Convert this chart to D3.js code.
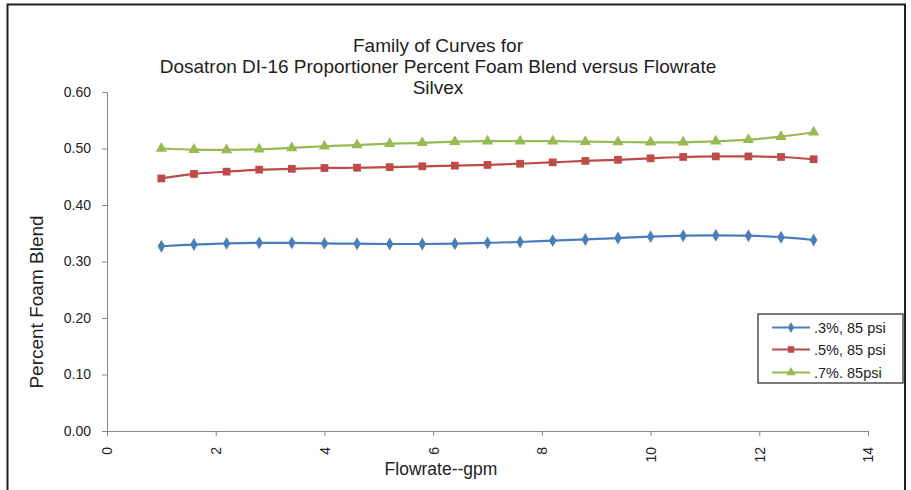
<!DOCTYPE html>
<html><head><meta charset="utf-8">
<script src="https://cdn.jsdelivr.net/npm/d3@7"></script>
<style>body{margin:0;background:#fff}svg{display:block;font-family:"Liberation Sans",Arial,sans-serif}</style>
</head><body>
<svg id="c" width="911" height="490"></svg>
<script>
const flowrate = [1.0,1.6,2.2,2.8,3.4,4.0,4.6,5.2,5.8,6.4,7.0,7.6,8.2,8.8,9.4,10.0,10.6,11.2,11.8,12.4,13.0];
const s03 = [0.327,0.330,0.332,0.333,0.333,0.332,0.3315,0.331,0.331,0.3315,0.333,0.3345,0.337,0.339,0.3415,0.344,0.3457,0.3463,0.3457,0.343,0.338];
const s05 = [0.447,0.455,0.459,0.4625,0.464,0.4655,0.466,0.467,0.4685,0.4696,0.471,0.473,0.4755,0.478,0.480,0.4826,0.485,0.486,0.486,0.485,0.481];
const s07 = [0.500,0.498,0.4975,0.4985,0.501,0.504,0.506,0.5085,0.510,0.512,0.513,0.513,0.513,0.512,0.5115,0.511,0.511,0.5127,0.5156,0.521,0.5287];
const seriesNames = [".3%, 85 psi", ".5%, 85 psi", ".7%. 85psi"];
const xTicks = [0,2,4,6,8,10,12,14];
const yTicks = [0,0.1,0.2,0.3,0.4,0.5,0.6];
const titleLines = ["Family of Curves for","Dosatron DI-16 Proportioner Percent Foam Blend versus Flowrate","Silvex"];

const svg = d3.select("#c");
svg.append("rect").attr("x",7.5).attr("y",4.5).attr("width",897.5).attr("height",500)
  .attr("fill","none").attr("stroke","#222").attr("stroke-width",2);

const x = d3.scaleLinear().domain([0,14]).range([107,868]);
const y = d3.scaleLinear().domain([0,0.6]).range([431,92]);
const axisCol = "#868686";

// Y axis
const ya = svg.append("g").attr("transform","translate(107,0)")
  .call(d3.axisLeft(y).tickValues(yTicks).tickFormat(d3.format(".2f")).tickSizeOuter(0).tickSize(5));
ya.select(".domain").attr("stroke",axisCol);
ya.selectAll(".tick line").attr("stroke",axisCol);
ya.selectAll("text").attr("fill","#222").attr("font-size",14).attr("x",-16)
  .style("font-family","Liberation Sans, Arial, sans-serif");

// X axis
const xa = svg.append("g").attr("transform","translate(0,431)")
  .call(d3.axisBottom(x).tickValues(xTicks).tickSizeOuter(0).tickSize(5));
xa.select(".domain").attr("stroke",axisCol);
xa.selectAll(".tick line").attr("stroke",axisCol);
xa.selectAll("text").attr("fill","#222").attr("font-size",14)
  .style("font-family","Liberation Sans, Arial, sans-serif")
  .attr("transform","rotate(-90)").attr("x",-16).attr("y",0).attr("dy","0.35em").attr("text-anchor","end");

// titles
svg.append("g").selectAll("text").data(titleLines).join("text")
  .attr("x",438).attr("y",(d,i)=>52+i*21).attr("text-anchor","middle")
  .attr("font-size",19).attr("fill","#222").text(d=>d);
svg.append("text").attr("x",441).attr("y",475).attr("text-anchor","middle")
  .attr("font-size",17.5).attr("fill","#222").text("Flowrate--gpm");
svg.append("text").attr("transform","translate(43,302) rotate(-90)").attr("text-anchor","middle")
  .attr("font-size",19).attr("fill","#222").text("Percent Foam Blend");

const series = [
  {vals:s03, color:"#4a7ebb", sym:d3.symbolDiamond, size:48},
  {vals:s05, color:"#be4b48", sym:d3.symbolSquare, size:60},
  {vals:s07, color:"#98b954", sym:d3.symbolTriangle, size:55}
];
const line = d3.line().x(d=>x(d[0])).y(d=>y(d[1])).curve(d3.curveCatmullRom.alpha(0.5));
series.forEach((s,i)=>{
  const pts = flowrate.map((f,j)=>[f,s.vals[j]]);
  svg.append("path").datum(pts).attr("d",line).attr("fill","none")
    .attr("stroke",s.color).attr("stroke-width",2.2);
  svg.append("g").selectAll("path").data(pts).join("path")
    .attr("transform",d=>`translate(${x(d[0])},${y(d[1])})`)
    .attr("d",d3.symbol().type(s.sym).size(s.size)).attr("fill",s.color);
});

// legend
const lg = svg.append("g");
lg.append("rect").attr("x",758).attr("y",314).attr("width",145).attr("height",69)
  .attr("fill","#fff").attr("stroke","#222").attr("stroke-width",1.2);
const rowsY = [327.5,349.5,372.5];
series.forEach((s,i)=>{
  lg.append("line").attr("x1",772).attr("x2",810).attr("y1",rowsY[i]).attr("y2",rowsY[i])
    .attr("stroke",s.color).attr("stroke-width",2.2);
  lg.append("path").attr("transform",`translate(791,${rowsY[i]})`)
    .attr("d",d3.symbol().type(s.sym).size(s.size*0.7)).attr("fill",s.color);
  lg.append("text").attr("x",814).attr("y",rowsY[i]).attr("dy","0.35em")
    .attr("font-size",14.5).attr("fill","#222").text(seriesNames[i]);
});
</script>
</body></html>
